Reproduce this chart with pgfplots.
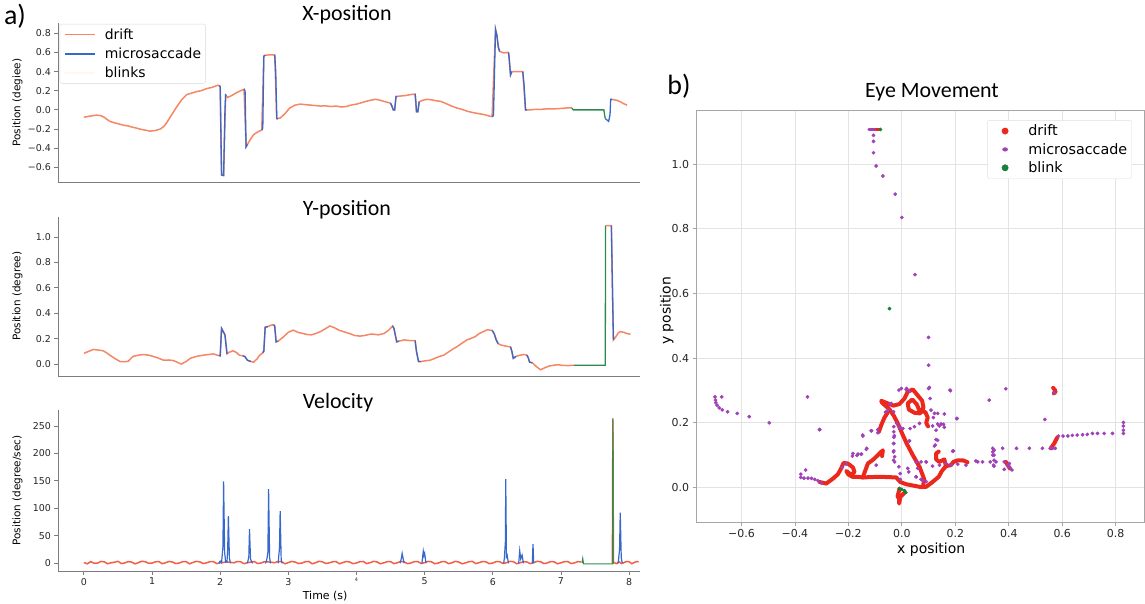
\documentclass[border=0pt]{standalone}
\usepackage{fontspec}
\setmainfont{DejaVu Sans}
\newfontfamily\titlefont{Carlito}
\usepackage{pgfplots}
\pgfplotsset{compat=1.18}

\definecolor{driftc}{RGB}{245,135,100}
\definecolor{msc}{RGB}{55,105,205}
\definecolor{blinkc}{RGB}{45,140,75}
\definecolor{velred}{RGB}{240,95,70}
\definecolor{sdrift}{RGB}{236,40,28}
\definecolor{smic}{RGB}{160,65,185}
\definecolor{sblink}{RGB}{20,130,60}
\definecolor{spine}{RGB}{125,125,125}

\pgfplotsset{
  leftpanel/.style={
    scale only axis, width=582bp, xmin=-0.38, xmax=8.16,
    axis lines*=left, axis line style={spine, line width=0.8bp, -},
    tick align=outside, major tick length=3.5bp,
    tick style={spine, line width=0.8bp},
    ticklabel style={font=\fontsize{9.5}{11}\selectfont, text=black!85},
    every axis y label/.style={at={(axis description cs:-0.0696,0.5)},
      rotate=90, anchor=center, font=\fontsize{10.5}{12}\selectfont},
    unbounded coords=jump,
  },
}

\begin{document}
\begin{tikzpicture}
\path[use as bounding box] (0,0) rectangle (1145bp,604bp);

% ---------------- X-position
\begin{axis}[leftpanel, at={(58bp,421.3bp)}, anchor=south west, height=160bp,
  ymin=-0.76, ymax=0.91, xtick=\empty,
  ytick={-0.6,-0.4,-0.2,0,0.2,0.4,0.6,0.8},
  yticklabels={−0.6,−0.4,−0.2,0.0,0.2,0.4,0.6,0.8},
  ylabel={Position (degiee)},
  legend image code/.code={\path (0bp,0bp) (40bp,0bp); \draw[#1, line width=1.5bp] (2bp,0bp) -- (32bp,0bp);},
  legend style={at={(axis description cs:0.003,0.992)}, anchor=north west,
    draw=gray!30, rounded corners=2bp, font=\fontsize{14}{16}\selectfont,
    inner sep=2.5bp, row sep=3bp},
  legend cell align=left]
\addlegendimage{driftc}
\addlegendimage{msc}
\addlegendimage{orange!6}
\addplot[driftc, line width=1.5bp, forget plot] coordinates {
(0.00,-0.077)(0.05,-0.07)(0.10,-0.064)(0.15,-0.058)(0.19,-0.055)(0.25,-0.06)(0.30,-0.078)(0.34,-0.10)
(0.38,-0.12)(0.45,-0.135)(0.52,-0.148)(0.58,-0.16)(0.65,-0.168)(0.72,-0.182)(0.77,-0.19)(0.85,-0.205)
(0.92,-0.214)(0.97,-0.222)(1.05,-0.215)(1.12,-0.20)(1.17,-0.175)(1.21,-0.14)(1.28,-0.06)(1.36,0.03)
(1.44,0.11)(1.51,0.16)(1.58,0.175)(1.65,0.19)(1.72,0.20)(1.80,0.222)(1.88,0.235)(1.97,0.258)
(2.00,0.24)(2.02,-0.68)(2.05,-0.685)(2.08,0.155)(2.11,0.13)(2.17,0.15)(2.24,0.18)(2.30,0.20)(2.35,0.215)
(2.38,-0.385)(2.40,-0.36)(2.45,-0.30)(2.49,-0.26)(2.55,-0.23)(2.61,-0.21)(2.64,0.56)(2.66,0.57)
(2.73,0.575)(2.80,0.575)(2.83,-0.09)(2.88,-0.085)(2.95,-0.04)(3.02,0.02)(3.10,0.05)(3.17,0.06)
(3.25,0.055)(3.32,0.05)(3.40,0.045)(3.47,0.04)(3.55,0.042)(3.62,0.035)(3.70,0.04)(3.78,0.03)
(3.85,0.035)(3.92,0.05)(4.00,0.06)(4.05,0.07)(4.12,0.085)(4.20,0.10)(4.28,0.11)(4.35,0.10)
(4.42,0.085)(4.50,0.07)(4.54,0.0)(4.56,0.0)(4.58,0.14)(4.65,0.145)(4.72,0.15)(4.80,0.16)(4.86,0.165)
(4.88,-0.02)(4.90,-0.02)(4.92,0.085)(4.97,0.10)(5.03,0.11)(5.10,0.105)(5.17,0.095)(5.23,0.09)
(5.30,0.07)(5.38,0.045)(5.47,0.02)(5.55,0.005)(5.63,-0.015)(5.72,-0.03)(5.80,-0.04)(5.88,-0.05)
(5.95,-0.065)(5.99,-0.07)(6.04,0.84)(6.06,0.78)(6.08,0.66)(6.10,0.61)(6.16,0.595)(6.23,0.60)
(6.26,0.365)(6.28,0.40)(6.36,0.40)(6.44,0.40)(6.48,0.0)(6.55,0.0)(6.62,0.005)(6.70,0.005)
(6.78,0.01)(6.89,0.01)(7.00,0.015)(7.08,0.02)(7.16,0.02)(7.17,nan)
(7.73,0.11)(7.78,0.105)(7.82,0.10)(7.87,0.085)(7.92,0.065)(7.97,0.05)};
\addplot[msc, line width=1.3bp, forget plot] coordinates {
(1.99,0.255)(2.00,0.24)(2.02,-0.68)(2.05,-0.685)(2.07,0.0)(2.08,0.155)(2.09,0.15)(2.1,nan)
(2.35,0.215)(2.365,0.20)(2.38,-0.385)(2.40,-0.36)(2.41,nan)
(2.61,-0.21)(2.625,-0.19)(2.64,0.56)(2.66,0.57)(2.67,nan)
(2.80,0.575)(2.815,0.40)(2.83,-0.09)(2.85,-0.095)(2.86,nan)
(4.50,0.07)(4.52,0.04)(4.54,0.0)(4.56,0.0)(4.58,0.14)(4.60,0.14)(4.61,nan)
(4.86,0.165)(4.87,0.10)(4.88,-0.02)(4.90,-0.02)(4.92,0.085)(4.93,nan)
(5.99,-0.07)(6.01,-0.06)(6.04,0.84)(6.06,0.78)(6.08,0.66)(6.10,0.61)(6.11,nan)
(6.23,0.60)(6.24,0.55)(6.26,0.365)(6.28,0.40)(6.29,nan)
(6.44,0.40)(6.46,0.25)(6.48,0.0)(6.50,0.0)(6.51,nan)
(7.65,-0.09)(7.70,-0.12)(7.72,-0.05)(7.73,0.11)(7.75,0.11)};
\addplot[blinkc, line width=1.3bp, forget plot] coordinates {
(7.16,0.02)(7.18,0.0)(7.63,0.0)(7.64,-0.05)(7.65,-0.09)};
\legend{drift,microsaccade,blinks}
\end{axis}

% ---------------- Y-position
\begin{axis}[leftpanel, at={(58bp,228bp)}, anchor=south west, height=159.3bp,
  ymin=-0.094, ymax=1.16, xtick=\empty,
  ytick={0,0.2,0.4,0.6,0.8,1.0},
  yticklabels={0.0,0.2,0.4,0.6,0.8,1.0},
  ylabel={Position (degree)}]
\addplot[driftc, line width=1.5bp] coordinates {
(0.00,0.084)(0.07,0.10)(0.14,0.115)(0.21,0.11)(0.28,0.105)(0.33,0.09)(0.38,0.07)(0.45,0.045)
(0.53,0.02)(0.60,0.018)(0.65,0.022)(0.72,0.06)(0.80,0.07)(0.87,0.075)(0.95,0.07)(1.02,0.06)
(1.10,0.045)(1.17,0.03)(1.24,0.032)(1.31,0.028)(1.38,0.012)(1.43,0.0)(1.50,0.02)(1.56,0.045)
(1.65,0.06)(1.75,0.07)(1.83,0.075)(1.90,0.08)(1.97,0.068)(2.00,0.065)(2.02,0.28)(2.05,0.25)
(2.07,0.23)(2.10,0.08)(2.12,0.09)(2.19,0.105)(2.24,0.09)(2.28,0.07)(2.33,0.065)(2.36,0.06)
(2.40,0.03)(2.45,0.02)(2.49,0.015)(2.54,0.04)(2.58,0.07)(2.63,0.09)(2.64,0.10)(2.66,0.29)
(2.70,0.295)(2.74,0.305)(2.78,0.31)(2.80,0.30)(2.82,0.175)(2.85,0.18)(2.93,0.215)(3.00,0.25)
(3.07,0.267)(3.14,0.25)(3.22,0.24)(3.28,0.232)(3.34,0.23)(3.40,0.24)(3.47,0.255)(3.55,0.28)
(3.61,0.30)(3.68,0.285)(3.75,0.265)(3.81,0.255)(3.90,0.24)(3.97,0.225)(4.05,0.22)(4.12,0.225)
(4.20,0.235)(4.25,0.235)(4.32,0.23)(4.40,0.24)(4.47,0.265)(4.53,0.30)(4.55,0.28)(4.59,0.175)
(4.62,0.18)(4.70,0.19)(4.78,0.185)(4.86,0.185)(4.88,0.10)(4.91,0.02)(4.95,0.02)(5.00,0.025)
(5.08,0.03)(5.15,0.045)(5.22,0.06)(5.28,0.07)(5.35,0.095)(5.42,0.12)(5.47,0.135)(5.55,0.165)
(5.62,0.19)(5.67,0.20)(5.74,0.215)(5.80,0.24)(5.86,0.255)(5.92,0.27)(5.99,0.265)(6.02,0.24)
(6.05,0.19)(6.08,0.16)(6.12,0.15)(6.20,0.14)(6.26,0.135)(6.28,0.10)(6.30,0.045)(6.34,0.06)
(6.40,0.07)(6.46,0.075)(6.50,0.07)(6.52,0.05)(6.54,0.015)(6.58,0.01)(6.64,-0.02)(6.70,-0.045)
(6.76,-0.03)(6.83,-0.015)(6.89,-0.01)(6.95,-0.005)(7.02,-0.01)(7.10,-0.012)(7.19,-0.01)(7.2,nan)
(7.655,1.09)(7.74,1.09)(7.77,0.19)(7.80,0.21)(7.84,0.245)(7.87,0.255)(7.92,0.25)(7.97,0.24)(8.02,0.235)};
\addplot[msc, line width=1.3bp] coordinates {
(1.98,0.068)(2.00,0.065)(2.02,0.28)(2.05,0.25)(2.07,0.23)(2.10,0.08)(2.11,nan)
(2.33,0.065)(2.36,0.06)(2.40,0.03)(2.45,0.02)(2.46,nan)
(2.62,0.09)(2.64,0.10)(2.66,0.29)(2.70,0.295)(2.71,nan)
(2.78,0.31)(2.80,0.30)(2.82,0.175)(2.85,0.18)(2.86,nan)
(4.53,0.30)(4.55,0.28)(4.59,0.175)(4.62,0.18)(4.63,nan)
(4.86,0.185)(4.88,0.10)(4.91,0.02)(4.95,0.02)(4.96,nan)
(5.99,0.265)(6.02,0.24)(6.05,0.19)(6.08,0.16)(6.09,nan)
(6.26,0.135)(6.28,0.10)(6.30,0.045)(6.34,0.06)(6.35,nan)
(6.50,0.07)(6.52,0.05)(6.54,0.015)(6.58,0.01)(6.59,nan)
(7.74,1.09)(7.755,0.6)(7.77,0.19)};
\addplot[blinkc, line width=1.3bp] coordinates {
(7.19,-0.01)(7.65,-0.01)(7.655,1.09)};
\end{axis}

% ---------------- Velocity
\begin{axis}[leftpanel, at={(58bp,33bp)}, anchor=south west, height=161bp,
  ymin=-14, ymax=279,
  xtick={0,1,2,3,4,5,6,7,8},
  xticklabels={0,1,2,3,{\raisebox{4bp}{\fontsize{5}{6}\selectfont 4}},5,6,7,8},
  ytick={0,50,100,150,200,250},
  yticklabels={0,50,100,150,200,250},
  ylabel={Position (degree/sec)},
  xlabel={Time (s)},
  every axis x label/.style={at={(axis description cs:0.459,-0.155)}, anchor=center,
    font=\fontsize{11}{13}\selectfont}]
\addplot[velred, line width=1.5bp] coordinates {
(0.0,1.5)(0.05,-1.0)(0.1,3.2)(0.15,0.0)(0.2,0.4)(0.25,3.5)(0.3,2.6)(0.35,-0.8)(0.4,1.0)(0.45,2.0)
(0.5,3.6)(0.55,-0.5)(0.6,0.7)(0.65,3.0)(0.7,2.3)(0.75,-1.0)(0.8,1.3)(0.85,3.8)(0.9,2.9)(0.95,0.0)
(1.0,0.5)(1.05,2.8)(1.1,3.1)(1.15,-0.7)(1.2,1.1)(1.25,3.4)(1.3,2.4)(1.35,-0.5)(1.4,0.6)(1.45,2.9)
(1.5,3.0)(1.55,-0.9)(1.6,1.5)(1.65,3.6)(1.7,2.7)(1.75,-0.4)(1.8,0.8)(1.85,3.1)(1.9,3.2)(1.95,-0.6)
(2.0,1.0)(2.1,2.5)(2.2,0.9)(2.25,3.3)(2.3,2.8)(2.35,-0.7)(2.4,1.2)(2.5,3.3)(2.55,-0.5)(2.6,0.6)
(2.65,3.0)(2.7,2.6)(2.8,1.1)(2.85,3.4)(2.9,3.0)(2.95,-0.8)(3.0,1.3)(3.05,3.5)(3.1,2.2)(3.15,-0.4)
(3.2,0.5)(3.25,2.9)(3.3,3.4)(3.35,-0.9)(3.4,1.0)(3.45,3.7)(3.5,2.7)(3.55,-0.3)(3.6,0.8)(3.65,2.8)
(3.7,3.1)(3.75,-0.8)(3.8,1.4)(3.85,3.3)(3.9,2.4)(3.95,-0.6)(4.0,0.6)(4.05,3.0)(4.1,3.3)(4.15,-0.5)
(4.2,1.2)(4.25,3.6)(4.3,2.6)(4.35,-0.9)(4.4,0.9)(4.45,2.9)(4.5,3.0)(4.55,-0.6)(4.6,1.1)(4.65,3.4)
(4.7,2.5)(4.75,-0.7)(4.8,0.7)(4.85,3.1)(4.9,3.2)(4.95,-0.4)(5.0,1.3)(5.05,3.5)(5.1,2.8)(5.15,-0.8)
(5.2,0.5)(5.25,3.0)(5.3,3.1)(5.35,-0.6)(5.4,1.0)(5.45,3.6)(5.5,2.4)(5.55,-0.9)(5.6,0.8)(5.65,2.9)
(5.7,3.5)(5.75,-0.5)(5.8,1.2)(5.85,3.3)(5.9,2.6)(5.95,-0.7)(6.0,0.6)(6.05,3.1)(6.1,2.9)(6.15,-0.4)
(6.2,1.1)(6.25,3.4)(6.3,3.2)(6.35,-0.8)(6.4,0.9)(6.45,3.0)(6.5,2.5)(6.55,-0.6)(6.6,1.3)(6.65,3.6)
(6.7,3.0)(6.75,-0.5)(6.8,0.7)(6.85,3.2)(6.9,2.7)(6.95,-0.9)(7.0,1.0)(7.05,2.9)(7.1,3.3)(7.15,-0.4)
(7.2,0.8)(7.25,3.1)(7.3,2.4)(7.31,nan)
(7.755,0)(7.762,262)(7.77,1)(7.78,1.2)(7.82,-0.6)(7.85,3.0)(7.89,-0.5)(7.92,0.9)(7.96,3.3)(8.00,2.8)
(8.04,-0.7)(8.07,1.1)(8.11,3.2)(8.14,2.6)};
\addplot[msc, line width=1.2bp] coordinates {
(1.98,0)(2.00,4)(2.02,1)(2.04,30)(2.05,149)(2.065,20)(2.08,2)(2.10,3)(2.11,25)(2.12,86)(2.135,10)(2.15,0)(2.16,nan)
(2.40,0)(2.42,12)(2.43,62)(2.445,8)(2.46,3)(2.48,0)(2.49,nan)
(2.66,0)(2.68,4)(2.70,20)(2.71,135)(2.725,10)(2.74,0)(2.75,nan)
(2.85,0)(2.87,28)(2.88,95)(2.895,6)(2.91,0)(2.92,nan)
(4.64,0)(4.66,10)(4.67,18)(4.685,8)(4.70,0)(4.71,nan)
(4.96,0)(4.98,22)(4.99,14)(5.00,18)(5.02,0)(5.03,nan)
(6.16,0)(6.17,10)(6.185,40)(6.19,153)(6.20,12)(6.21,15)(6.23,0)(6.24,nan)
(6.38,0)(6.395,23)(6.41,8)(6.43,15)(6.45,0)(6.46,nan)
(6.58,0)(6.59,35)(6.60,0)(6.61,nan)
(7.84,0)(7.86,25)(7.87,92)(7.885,10)(7.90,0)};
\addplot[blinkc, line width=1.2bp] coordinates {
(7.31,1)(7.32,8)(7.33,-1)(7.76,-1)(7.762,264)(7.765,-1)};
\end{axis}

% ---------------- Eye movement scatter
\begin{axis}[at={(696bp,81.3bp)}, anchor=south west, scale only axis,
  width=448bp, height=412bp,
  xmin=-0.77, xmax=0.906, ymin=-0.109, ymax=1.165,
  axis line style={gray!70, line width=0.8bp},
  grid=major, grid style={gray!22, line width=0.8bp},
  tick align=outside, major tick length=3.5bp, tick style={gray!70, line width=0.8bp},
  xtick pos=bottom, ytick pos=left,
  xtick={-0.6,-0.4,-0.2,0,0.2,0.4,0.6,0.8},
  xticklabels={−0.6,−0.4,−0.2,0.0,0.2,0.4,0.6,0.8},
  ytick={0,0.2,0.4,0.6,0.8,1.0},
  yticklabels={0.0,0.2,0.4,0.6,0.8,1.0},
  ticklabel style={font=\fontsize{11}{13}\selectfont, text=black!85},
  xlabel={x position}, ylabel={y position},
  every axis x label/.style={at={(axis description cs:0.525,-0.066)}, anchor=center,
    font=\fontsize{14}{16}\selectfont},
  every axis y label/.style={at={(axis description cs:-0.065,0.514)}, rotate=90, anchor=center,
    font=\fontsize{14}{16}\selectfont},
  legend image code/.code={\path (0bp,0bp) (36bp,0bp); \draw[#1] plot coordinates {(15bp,0bp)};},
  legend style={at={(axis description cs:0.65,0.977)}, anchor=north west,
    draw=gray!25, rounded corners=2bp, font=\fontsize{14.4}{16}\selectfont,
    inner sep=2.5bp, row sep=2bp},
  legend cell align=left]
\addlegendimage{only marks, mark=*, mark size=3.2bp, sdrift}
\addlegendimage{only marks, mark=*, mark size=2.6bp, smic, mark options={yscale=0.7}}
\addlegendimage{only marks, mark=*, mark size=3.2bp, sblink}
% drift paths
\pgfplotsset{every axis plot/.append style={line join=round, line cap=round}}
\addplot[sdrift, line width=4bp, forget plot] coordinates {
(-0.308,0.017)(-0.283,0.012)(-0.258,0.027)(-0.239,0.041)(-0.227,0.059)(-0.218,0.076)(-0.202,0.074)
(-0.183,0.062)(-0.177,0.048)(-0.189,0.039)(-0.208,0.051)(-0.200,0.040)(-0.185,0.033)(-0.171,0.033)
(-0.146,0.031)(-0.084,0.033)(-0.021,0.031)(-0.006,0.017)(0.016,0.010)(0.066,0.002)(0.091,0.002)
(0.115,0.017)(0.138,0.033)(0.150,0.051)(0.165,0.066)(0.184,0.069)(0.193,0.079)(0.209,0.084)
(0.228,0.084)(0.246,0.078)};
\addplot[sdrift, line width=4bp, forget plot] coordinates {
(0.165,0.066)(0.159,0.087)(0.140,0.079)(0.128,0.087)(0.128,0.105)(0.138,0.111)};
\addplot[sdrift, line width=4bp, forget plot] coordinates {
(-0.146,0.031)(-0.136,0.054)(-0.127,0.074)(-0.106,0.087)(-0.086,0.103)(-0.071,0.115)(-0.074,0.097)};
\addplot[sdrift, line width=4bp, forget plot] coordinates {
(0.080,0.008)(0.084,0.025)(0.066,0.064)(0.041,0.100)(0.018,0.136)(0.001,0.167)(-0.015,0.198)
(-0.031,0.223)(-0.046,0.241)(-0.059,0.251)(-0.074,0.262)(-0.077,0.268)(-0.059,0.262)(-0.031,0.253)
(-0.009,0.258)(0.010,0.275)(0.022,0.296)(0.041,0.303)(0.059,0.285)(0.076,0.268)(0.081,0.247)
(0.068,0.229)(0.047,0.231)(0.026,0.241)(0.022,0.260)(0.039,0.272)(0.056,0.257)(0.066,0.237)
(0.088,0.233)(0.097,0.216)(0.091,0.200)(0.098,0.189)};
\addplot[sdrift, line width=4bp, forget plot] coordinates {
(-0.046,0.241)(-0.065,0.216)(-0.077,0.193)(-0.086,0.172)};
\addplot[sdrift, line width=4bp, forget plot] coordinates {
(-0.009,-0.005)(-0.013,-0.018)(-0.016,-0.028)(-0.010,-0.035)(-0.010,-0.050)(-0.006,-0.030)(0.003,-0.022)(0.010,-0.016)};
\addplot[sdrift, line width=4bp, forget plot] coordinates {
(0.566,0.308)(0.574,0.300)(0.568,0.290)(0.575,0.296)};
\addplot[sdrift, line width=4bp, forget plot] coordinates {
(0.557,0.121)(0.570,0.136)(0.576,0.146)(0.582,0.155)};
\addplot[sdrift, line width=4bp, forget plot] coordinates {
(0.389,0.079)(0.396,0.069)(0.404,0.059)};
% microsaccade samples
\addplot[smic, line width=3.3bp, forget plot] coordinates {(-0.123,1.107)(-0.096,1.107)};
\addplot[sdrift, line width=3.3bp, forget plot] coordinates {(-0.096,1.107)(-0.084,1.107)};
\addplot[only marks, mark=*, mark size=1.7bp, smic, forget plot] coordinates {
(-0.106,1.089)(-0.106,1.070)(-0.106,1.035)(-0.096,0.994)(-0.071,0.963)(-0.025,0.907)(0.0,0.835)
(0.049,0.658)(0.10,0.464)(0.10,0.378)(0.10,0.306)(0.106,0.275)
(-0.699,0.280)(-0.697,0.270)(-0.696,0.262)(-0.691,0.254)(-0.683,0.246)(-0.672,0.240)(-0.652,0.234)
(-0.616,0.229)(-0.571,0.219)(-0.496,0.200)(-0.674,0.280)(-0.353,0.280)(-0.307,0.179)
(-0.378,0.041)(-0.378,0.031)(-0.366,0.029)(-0.351,0.029)(-0.338,0.028)(-0.326,0.025)(-0.314,0.021)
(-0.301,0.014)(-0.360,0.054)
(-0.223,0.062)(-0.208,0.072)(-0.185,0.097)(-0.168,0.099)(-0.151,0.103)(-0.131,0.121)(-0.146,0.159)
(-0.113,0.175)(-0.090,0.179)(-0.090,0.169)(-0.096,0.069)
(-0.030,0.188)(-0.030,0.172)(-0.030,0.155)(-0.030,0.136)(-0.030,0.113)(-0.027,0.095)(-0.027,0.079)
(-0.011,0.064)(-0.006,0.043)(-0.006,0.025)
(-0.011,0.301)(-0.002,0.306)(0.016,0.303)(0.029,0.298)(-0.040,0.260)(-0.052,0.239)(-0.061,0.233)
(-0.009,0.188)(0.004,0.182)(0.029,0.144)(0.047,0.188)(0.066,0.198)
(0.054,0.079)(0.054,0.033)(0.072,0.079)(0.091,0.079)(0.078,0.021)(0.091,0.018)
(0.109,0.239)(0.118,0.216)(0.134,0.196)(0.147,0.196)(0.156,0.195)(0.159,0.186)(0.128,0.148)(0.122,0.128)
(0.182,0.299)(0.207,0.213)(0.190,0.112)(0.165,0.074)(0.184,0.069)(0.141,0.069)(0.209,0.072)
(0.240,0.069)(0.284,0.079)(0.331,0.079)
(0.340,0.121)(0.340,0.110)(0.340,0.100)(0.343,0.069)(0.352,0.079)(0.377,0.121)(0.383,0.079)
(0.383,0.056)(0.396,0.069)(0.404,0.062)(0.412,0.054)(0.402,0.074)
(0.429,0.121)(0.477,0.121)(0.526,0.121)(0.555,0.121)(0.564,0.121)(0.574,0.121)
(0.389,0.305)(0.327,0.270)(0.535,0.210)(0.570,0.293)
(0.586,0.159)(0.603,0.159)(0.621,0.159)(0.638,0.161)(0.656,0.162)(0.676,0.163)(0.694,0.164)
(0.713,0.167)(0.732,0.167)(0.757,0.167)(0.788,0.167)(0.829,0.167)(0.829,0.177)(0.829,0.190)(0.829,0.201)
(0.018,0.306)(0.103,0.309)(0.180,0.301)(-0.044,0.258)(-0.031,0.234)(-0.019,0.198)(-0.006,0.182)
(0.031,0.182)(0.028,0.144)(-0.028,0.160)(-0.031,0.136)(-0.031,0.110)(-0.031,0.084)(-0.146,0.162)
(-0.115,0.175)(-0.183,0.105)(-0.164,0.103)(-0.152,0.103)(-0.133,0.118)
(0.122,0.229)(0.134,0.229)(0.140,0.190)(0.128,0.177)(0.115,0.190)(0.159,0.227)(0.205,0.213)
(0.134,0.146)(0.125,0.131)(0.193,0.113)(0.022,0.059)(0.026,0.048)(0.059,0.059)(0.091,0.079)
(0.115,0.066)(0.053,0.033)(0.072,0.025)(0.345,0.115)(0.345,0.100)(0.345,0.084)(0.345,0.066)
(0.277,0.082)(0.302,0.079)(-0.308,0.179)};
\addplot[only marks, mark=*, mark size=1.7bp, sblink, forget plot] coordinates {
(-0.080,1.107)(-0.046,0.553)(-0.009,-0.003)(0.0,-0.006)(0.010,-0.010)(0.015,-0.016)};
\legend{drift,microsaccade,blink}
\end{axis}

% titles and panel letters
\node[font=\titlefont\fontsize{22}{24}\selectfont] at (347bp,589bp) {X-position};
\node[font=\titlefont\fontsize{22}{24}\selectfont] at (347bp,394bp) {Y-position};
\node[font=\titlefont\fontsize{22}{24}\selectfont] at (338bp,201bp) {Velocity};
\node[font=\titlefont\fontsize{22}{24}\selectfont] at (932bp,512bp) {Eye Movement};
\node[font=\titlefont\fontsize{28}{30}\selectfont] at (15bp,588bp) {a)};
\node[font=\titlefont\fontsize{28}{30}\selectfont] at (679bp,518bp) {b)};
\end{tikzpicture}
\end{document}
